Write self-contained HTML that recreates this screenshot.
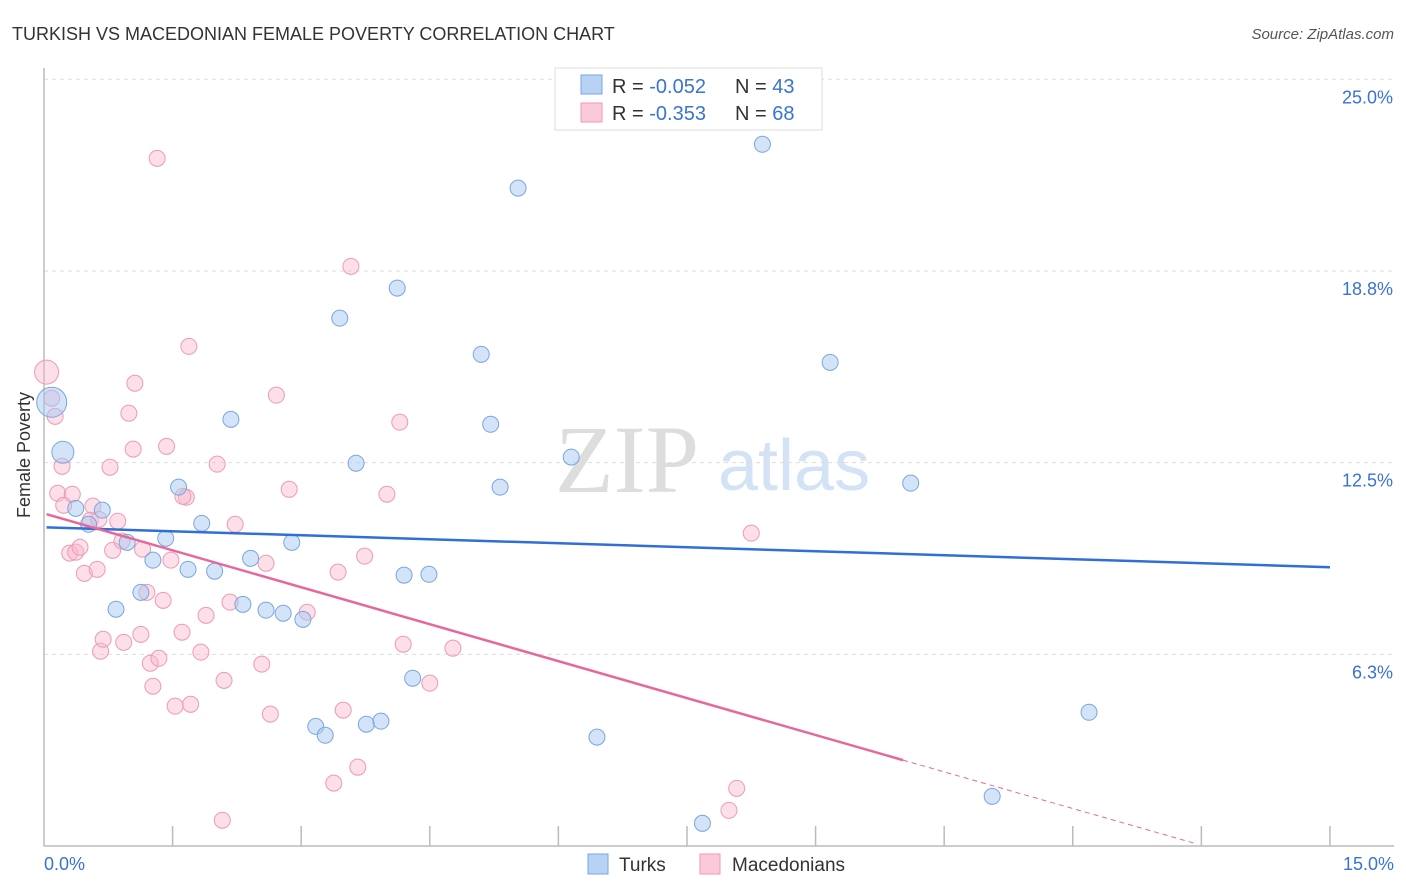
<!DOCTYPE html>
<html><head><meta charset="utf-8"><style>
body{margin:0;background:#fff;font-family:"Liberation Sans",sans-serif;}
#wrap{position:relative;width:1406px;height:892px;overflow:hidden;}
</style></head><body>
<div id="wrap">
<svg id="chart" width="1406" height="892" xmlns="http://www.w3.org/2000/svg">
<text x="12" y="40" font-size="18" fill="#333">TURKISH VS MACEDONIAN FEMALE POVERTY CORRELATION CHART</text>
<text x="1394" y="39" font-size="15" fill="#555" font-style="italic" text-anchor="end">Source: ZipAtlas.com</text>
<g>
<text x="555" y="492" font-size="96" font-family="Liberation Serif,serif" fill="#ddd">ZIP</text>
<text x="718" y="490" font-size="72" fill="#d4e2f5">atlas</text>
</g>
<g id="grid"></g>
<g id="axes"></g>
<g id="marks"></g>
<text x="30" y="455" font-size="18" fill="#333" transform="rotate(-90 30 455)" text-anchor="middle">Female Poverty</text>
<g>
<rect x="555" y="68" width="267" height="62" fill="#fff" stroke="#ddd"/>
<rect x="581" y="75" width="21" height="19" fill="#b8d2f5" stroke="#7aa6e0"/>
<text x="612" y="93" font-size="20" fill="#333">R = <tspan fill="#3a72d6">-0.052</tspan></text>
<text x="735" y="93" font-size="20" fill="#333">N = <tspan fill="#3a72d6">43</tspan></text>
<rect x="581" y="103" width="21" height="19" fill="#fbcad8" stroke="#ee9ab5"/>
<text x="612" y="120" font-size="20" fill="#333">R = <tspan fill="#3a72d6"> -0.353</tspan></text>
<text x="735" y="120" font-size="20" fill="#333">N = <tspan fill="#3a72d6">68</tspan></text>
</g>
<g>
<rect x="588" y="854" width="20" height="20" fill="#b8d2f5" stroke="#7aa6e0"/>
<text x="619" y="871" font-size="19" fill="#333">Turks</text>
<rect x="700" y="854" width="20" height="20" fill="#fbcad8" stroke="#ee9ab5"/>
<text x="732" y="871" font-size="19" fill="#333">Macedonians</text>
</g>
</svg>
</div>
<script>
const yTicks=[25,18.75,12.5,6.25];
const yTickLabels=["25.0%","18.8%","12.5%","6.3%"];
const xTickLabels=["0.0%","15.0%"];
const turksX=[0.09,0.22,0.37,0.52,0.68,0.84,0.97,1.13,1.27,1.42,1.57,1.68,1.84,1.99,2.18,2.32,2.41,2.59,2.79,2.89,3.02,3.17,3.28,3.45,3.64,3.76,3.93,4.12,4.20,4.30,4.49,5.10,5.21,5.32,5.53,6.15,6.45,7.68,8.38,9.17,10.11,12.19,11.06];
const turksY=[14.47,12.84,11.01,10.49,10.95,7.72,9.90,8.27,9.32,10.03,11.70,9.02,10.52,8.96,13.91,7.88,9.38,7.69,7.59,9.90,7.39,3.90,3.61,17.21,12.48,3.97,4.07,18.19,8.83,5.47,8.86,16.03,13.75,11.70,21.45,12.68,3.55,0.74,22.88,15.77,11.83,4.36,1.62];
const macX=[0.03,0.09,0.13,0.21,0.16,0.23,0.33,0.30,0.37,0.42,0.47,0.57,0.62,0.54,0.64,0.66,0.69,0.80,0.77,0.86,0.91,0.93,0.99,1.04,1.06,1.13,1.15,1.20,1.24,1.27,1.32,1.34,1.39,1.43,1.48,1.53,1.61,1.66,1.69,1.71,1.83,1.89,2.02,2.10,2.17,2.08,2.23,2.54,2.59,2.64,2.71,2.86,3.07,3.38,3.43,3.49,3.58,3.66,3.74,4.00,4.15,4.19,4.50,4.77,7.99,8.08,8.25,1.62];
const macY=[15.45,14.60,14.01,12.38,11.50,11.11,11.47,9.55,9.58,9.74,8.89,11.08,9.02,10.62,10.65,6.35,6.74,9.64,12.35,10.59,9.94,6.64,14.11,12.94,15.09,6.90,9.68,8.27,5.96,5.21,22.42,6.12,8.01,13.03,9.32,4.56,6.97,11.37,16.29,4.62,6.32,7.52,12.45,5.40,7.95,0.84,10.49,5.93,9.22,4.30,14.70,11.63,7.62,2.05,8.93,4.43,18.90,2.57,9.45,11.47,13.82,6.58,5.31,6.45,1.16,1.88,10.20,11.40];
const turksTrend=[[0.03,10.39],[15,9.09]];
const macTrend=[[0.03,10.82],[10.02,2.80],[13.42,0.09]];
const X=v=>44+v*85.73, Y=v=>846-v*30.67;
const NS="http://www.w3.org/2000/svg";
function mk(p,t,a){const e=document.createElementNS(NS,t);for(const k in a)e.setAttribute(k,a[k]);p.appendChild(e);return e;}
const grid=document.getElementById('grid'),axes=document.getElementById('axes'),marks=document.getElementById('marks');
yTicks.forEach((v,i)=>{
 const l=mk(grid,'line',{x1:44,x2:1394,y1:Y(v),y2:Y(v),stroke:'#ddd','stroke-dasharray':'4 4'});
 
 
 const t=mk(axes,'text',{x:1393,y:Y(v)+24,'font-size':18,fill:'#3a72d6','text-anchor':'end'});
 t.textContent=yTickLabels[i];
 
 
});
const ya=mk(axes,'line',{x1:44,x2:44,y1:68,y2:846,stroke:'#bbb','stroke-width':1.5});


const xa=mk(axes,'line',{x1:44,x2:1394,y1:846,y2:846,stroke:'#bbb','stroke-width':1.5});


for(let i=1;i<=10;i++){const tk=mk(axes,'line',{x1:X(i*1.5),x2:X(i*1.5),y1:826,y2:846,stroke:'#bbb','stroke-width':1.5});
 
 }
const xl0=mk(axes,'text',{x:44,y:870,'font-size':18,fill:'#3a72d6'});xl0.textContent=xTickLabels[0];


const xl1=mk(axes,'text',{x:1394,y:870,'font-size':18,fill:'#3a72d6','text-anchor':'end'});xl1.textContent=xTickLabels[1];


macX.forEach((v,i)=>{const c=mk(marks,'circle',{cx:X(v),cy:Y(macY[i]),r:i==0?12:8,fill:'rgba(248,185,205,0.45)',stroke:'#ee9ab5','stroke-width':1});
 
 });
turksX.forEach((v,i)=>{const c=mk(marks,'circle',{cx:X(v),cy:Y(turksY[i]),r:i==0?15:(i==1?11:8),fill:'rgba(168,200,242,0.5)',stroke:'#7aa6e0','stroke-width':1});
 
 });
const bt=mk(marks,'line',{x1:X(turksTrend[0][0]),y1:Y(turksTrend[0][1]),x2:X(turksTrend[1][0]),y2:Y(turksTrend[1][1]),stroke:'#2f6fd6','stroke-width':2.5});


const pt=mk(marks,'line',{x1:X(macTrend[0][0]),y1:Y(macTrend[0][1]),x2:X(macTrend[1][0]),y2:Y(macTrend[1][1]),stroke:'#e8679a','stroke-width':2.5});


const pd=mk(marks,'line',{x1:X(macTrend[1][0]),y1:Y(macTrend[1][1]),x2:X(macTrend[2][0]),y2:Y(macTrend[2][1]),stroke:'#e8679a','stroke-width':1,'stroke-dasharray':'5 4'});


</script>
</body></html>
